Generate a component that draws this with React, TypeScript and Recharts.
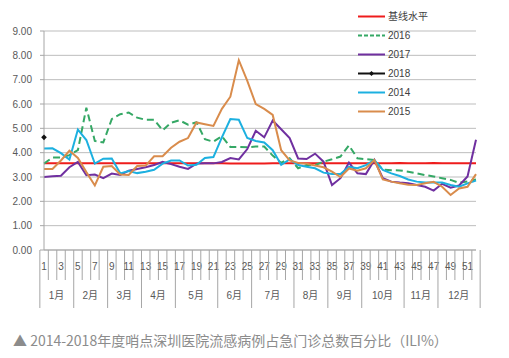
import { LineChart, Line, XAxis, YAxis, CartesianGrid, Legend } from 'recharts';

// ILI% by week, 2014-2018, Shenzhen sentinel hospitals

const weeks = [
  1, 2, 3, 4, 5, 6, 7, 8, 9, 10, 11, 12, 13, 14, 15, 16, 17, 18, 19, 20, 21, 22, 23, 24, 25, 26,
  27, 28, 29, 30, 31, 32, 33, 34, 35, 36, 37, 38, 39, 40, 41, 42, 43, 44, 45, 46, 47, 48, 49, 50, 51, 52,
];

const baseline = [
  3.57, 3.57, 3.57, 3.56, 3.56, 3.56, 3.56, 3.56, 3.56, 3.56, 3.56, 3.56, 3.56, 3.56, 3.56, 3.56, 3.56,
  3.56, 3.56, 3.56, 3.56, 3.56, 3.55, 3.55, 3.55, 3.55, 3.55, 3.56, 3.56, 3.56, 3.56, 3.56, 3.56, 3.56,
  3.56, 3.56, 3.57, 3.57, 3.57, 3.57, 3.57, 3.57, 3.58, 3.57, 3.57, 3.57, 3.58, 3.57, 3.57, 3.57, 3.57, 3.57,
];

const s2016 = [
  3.55, 3.8, 3.8, 3.9, 4.1, 5.85, 4.48, 4.42, 5.38, 5.58, 5.65, 5.44, 5.35, 5.35, 4.92, 5.23, 5.33,
  5.15, 5.25, 4.55, 4.45, 4.68, 4.23, 4.23, 4.22, 4.25, 4.25, 3.88, 3.58, 3.77, 3.36, 3.49, 3.49, 3.63,
  3.73, 3.84, 4.3, 3.77, 3.73, 3.7, 3.3, 3.28, 3.27, 3.22, 3.15, 3.08, 3.02, 2.95, 2.88, 2.76, 2.82, 2.9,
];

const s2017 = [
  3.0, 3.03, 3.05, 3.4, 3.62, 3.07, 3.1, 2.95, 3.14, 3.08, 3.26, 3.33, 3.4, 3.49, 3.62, 3.53, 3.42,
  3.33, 3.55, 3.56, 3.56, 3.62, 3.78, 3.72, 4.15, 4.9, 4.63, 5.32, 4.96, 4.6, 3.76, 3.74, 3.96, 3.63,
  2.67, 2.95, 3.59, 3.15, 3.12, 3.7, 2.95, 2.81, 2.77, 2.74, 2.67, 2.6, 2.44, 2.72, 2.56, 2.65, 3.02, 4.53,
];

const s2018 = [4.63];

const s2014 = [
  4.17, 4.18, 3.98, 3.72, 4.95, 4.52, 3.55, 3.75, 3.76, 3.15, 3.25, 3.16, 3.22, 3.3, 3.55, 3.68, 3.68,
  3.47, 3.5, 3.78, 3.82, 4.63, 5.38, 5.35, 4.6, 4.48, 4.42, 4.1, 3.5, 3.72, 3.49, 3.42, 3.36, 3.18,
  3.12, 3.12, 3.42, 3.36, 3.49, 3.7, 3.29, 3.15, 3.04, 2.9, 2.81, 2.77, 2.77, 2.77, 2.67, 2.6, 2.74, 2.85,
];

const s2015 = [
  3.33, 3.33, 3.68, 4.08, 3.78, 3.2, 2.65, 3.42, 3.45, 3.1, 3.08, 3.45, 3.47, 3.85, 3.85, 4.2, 4.45,
  4.6, 5.24, 5.17, 5.1, 5.8, 6.3, 7.8, 6.95, 6.0, 5.8, 5.55, 4.1, 3.68, 3.58, 3.55, 3.47, 3.4,
  3.22, 3.0, 3.35, 3.26, 3.36, 3.7, 2.9, 2.81, 2.74, 2.68, 2.67, 2.74, 2.8, 2.6, 2.26, 2.53, 2.6, 3.12,
];

const monthLabels = ['1月', '2月', '3月', '4月', '5月', '6月', '7月', '8月', '9月', '10月', '11月', '12月'];
const monthWeeks = [4, 4, 4, 4, 5, 4, 5, 4, 4, 5, 4, 5];
const yTicks = [0, 1, 2, 3, 4, 5, 6, 7, 8, 9];

// ---------------------------------------------------------------------------
// Layout / style
// ---------------------------------------------------------------------------

const FONT = '"Liberation Sans", "Noto Sans CJK SC", sans-serif';
const CHART_W = 501;
const CHART_H = 310;
const MARGIN = { top: 23, right: 33, left: 0, bottom: 8 };
const Y_AXIS_W = 36;
const X_AXIS_H = 60;
const PLOT_W = CHART_W - MARGIN.left - MARGIN.right - Y_AXIS_W;
const BAND = PLOT_W / weeks.length;

const AXIS_GREY = '#a6a6a6';
const TEXT_GREY = '#595959';

const COLORS = {
  base: '#ee1c1c',
  y2016: '#35a865',
  y2017: '#7030a0',
  y2018: '#111111',
  y2014: '#1cb0e0',
  y2015: '#d98c4c',
};

const data = weeks.map((w, i) => ({
  week: w,
  base: baseline[i],
  y2016: s2016[i],
  y2017: s2017[i],
  y2018: i < s2018.length ? s2018[i] : null,
  y2014: s2014[i],
  y2015: s2015[i],
}));

// month index keyed by the index of its first week
const monthStarts = new Map<number, number>();
{
  let acc = 0;
  monthWeeks.forEach((n, m) => {
    monthStarts.set(acc, m);
    acc += n;
  });
}

function diamond(cx: number, cy: number, r: number) {
  return `M${cx},${cy - r}L${cx + r},${cy}L${cx},${cy + r}L${cx - r},${cy}Z`;
}

function WeekTick(props: any) {
  const { x, y, payload } = props;
  const i = weeks.indexOf(payload.value);
  const left = x - BAND / 2;
  const m = monthStarts.get(i);
  const isLast = i === weeks.length - 1;
  return (
    <g>
      <line x1={left} x2={left} y1={y} y2={y + (m !== undefined ? 58 : 30)} stroke={AXIS_GREY} strokeWidth={1} />
      {isLast && <line x1={left + BAND} x2={left + BAND} y1={y} y2={y + 58} stroke={AXIS_GREY} strokeWidth={1} />}
      {payload.value % 2 === 1 && (
        <text x={x} y={y + 20} textAnchor="middle" fontSize={10} fontFamily={FONT} fill={TEXT_GREY}>
          {payload.value}
        </text>
      )}
      {m !== undefined && (
        <text
          x={left + (monthWeeks[m] * BAND) / 2}
          y={y + 49}
          textAnchor="middle"
          fontSize={10}
          fontFamily={FONT}
          fill={TEXT_GREY}
        >
          {monthLabels[m]}
        </text>
      )}
    </g>
  );
}

const legendItems = [
  { name: '基线水平', color: COLORS.base, dash: undefined as string | undefined, marker: false },
  { name: '2016', color: COLORS.y2016, dash: '4 2', marker: false },
  { name: '2017', color: COLORS.y2017, dash: undefined, marker: false },
  { name: '2018', color: COLORS.y2018, dash: undefined, marker: true },
  { name: '2014', color: COLORS.y2014, dash: undefined, marker: false },
  { name: '2015', color: COLORS.y2015, dash: undefined, marker: false },
];

function LegendBox() {
  return (
    <svg width={130} height={120} style={{ display: 'block', overflow: 'visible' }}>
      {legendItems.map((it, i) => {
        const cy = 8.5 + i * 19;
        return (
          <g key={it.name}>
            <line x1={0} x2={27} y1={cy} y2={cy} stroke={it.color} strokeWidth={2} strokeDasharray={it.dash} />
            {it.marker && <path d={diamond(13.5, cy, 2.5)} fill={it.color} />}
            <text x={30} y={cy + 3.5} fontSize={10} fontFamily={FONT} fill="#404040">
              {it.name}
            </text>
          </g>
        );
      })}
    </svg>
  );
}

function DiamondDot(props: any) {
  const { cx, cy, index } = props;
  if (cx == null || cy == null || props.value == null) return <g key={`d-${index}`} />;
  return <path key={`d-${index}`} d={diamond(cx, cy, 2.8)} fill={COLORS.y2018} />;
}

export default function App() {
  return (
    <div style={{ position: 'relative', width: CHART_W, height: 342, background: '#fff' }}>
      <LineChart width={CHART_W} height={CHART_H} data={data} margin={MARGIN}>
        <CartesianGrid vertical={false} stroke="#bdbdbd" />
        <XAxis
          dataKey="week"
          interval={0}
          height={X_AXIS_H}
          tickLine={false}
          tickSize={0}
          tickMargin={0}
          axisLine={{ stroke: AXIS_GREY }}
          tick={<WeekTick />}
        />
        <YAxis
          width={Y_AXIS_W}
          domain={[0, 9]}
          ticks={yTicks}
          interval={0}
          tickSize={4}
          tickMargin={8}
          axisLine={{ stroke: AXIS_GREY }}
          tickLine={{ stroke: AXIS_GREY }}
          tickFormatter={(v: number) => v.toFixed(2)}
          tick={{ fontSize: 10, fill: TEXT_GREY, fontFamily: FONT }}
        />
        <Legend
          layout="vertical"
          align="center"
          verticalAlign="middle"
          wrapperStyle={{ top: 0, left: 350, width: 130, height: 120 }}
          content={<LegendBox />}
        />
        <Line dataKey="base" name="基线水平" stroke={COLORS.base} strokeWidth={2} dot={false} isAnimationActive={false} />
        <Line dataKey="y2016" name="2016" stroke={COLORS.y2016} strokeWidth={2} strokeDasharray="7 4" dot={false} isAnimationActive={false} />
        <Line dataKey="y2017" name="2017" stroke={COLORS.y2017} strokeWidth={2} dot={false} isAnimationActive={false} />
        <Line dataKey="y2018" name="2018" stroke={COLORS.y2018} strokeWidth={2} dot={<DiamondDot />} isAnimationActive={false} />
        <Line dataKey="y2014" name="2014" stroke={COLORS.y2014} strokeWidth={2} dot={false} isAnimationActive={false} />
        <Line dataKey="y2015" name="2015" stroke={COLORS.y2015} strokeWidth={2} dot={false} isAnimationActive={false} />
      </LineChart>
      <div
        style={{
          position: 'absolute',
          top: 323,
          left: 5,
          fontSize: 14,
          lineHeight: '18px',
          color: '#8c8c8c',
          fontFamily: '"Noto Sans CJK SC", "Noto Sans", sans-serif',
          whiteSpace: 'nowrap',
        }}
      >
        ▲ 2014-2018年度哨点深圳医院流感病例占急门诊总数百分比（ILI%）
      </div>
    </div>
  );
}
